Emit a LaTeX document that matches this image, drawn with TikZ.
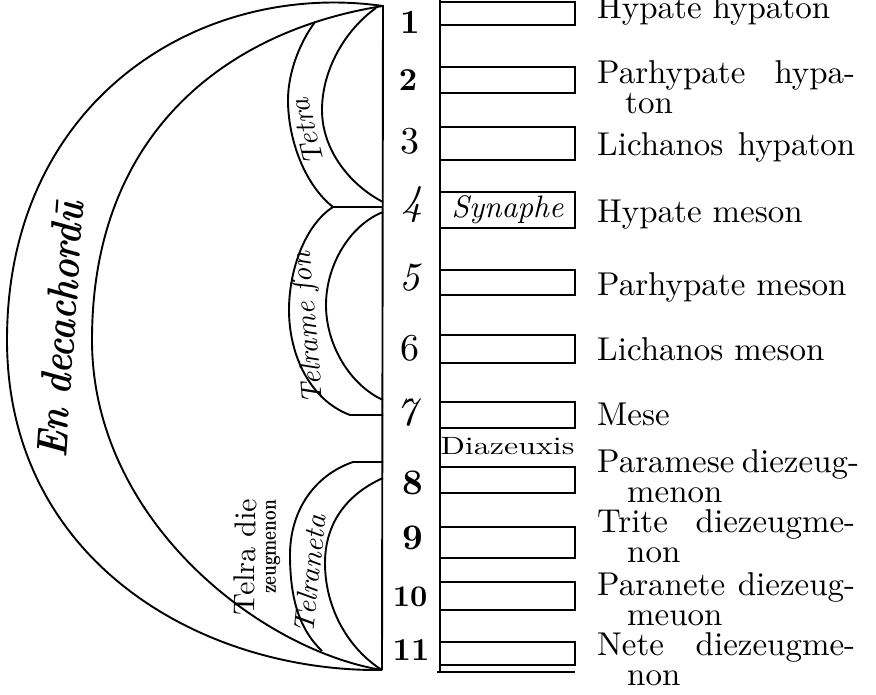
\documentclass[tikz,border=0pt]{standalone}
\usepackage{fontspec}
\setmainfont{lmroman10-regular.otf}[BoldFont=lmroman10-bold.otf,
  ItalicFont=lmroman10-italic.otf, BoldItalicFont=lmroman10-bolditalic.otf]
\usepackage{tikz}
\usetikzlibrary{positioning}

\begin{document}
\begin{tikzpicture}[x=1pt, y=-1pt,
    curveline/.style={line width=1.9pt},
    strbox/.style={rectangle, draw, line width=1.9pt, minimum width=135pt, inner sep=0pt},
    num/.style={font=\fontsize{38}{38}\selectfont},
    lbl/.style={anchor=base west, align=left, inner sep=0pt,
      font=\fontsize{33}{29.5}\selectfont},
    band/.style={inner sep=0pt, font=\itshape\fontsize{29}{29}\selectfont}]

    \useasboundingbox (0,0) rectangle (876,694);

    \coordinate (top) at (383,6);
    \coordinate (bot) at (382,670);

    % the big crescent
    \draw[curveline] (top) .. controls (200,-20) and (7,100) .. (7,340)
        .. controls (7,560) and (200,672) .. (bot);
    \draw[curveline] (top) .. controls (230,30) and (92,130) .. (92,340)
        .. controls (92,520) and (260,650) .. (bot);

    % the three tetrachords
    \draw[curveline] (315,22) .. controls (298,45) and (288,75) .. (288,100)
        .. controls (288,140) and (305,185) .. (333,207);
    \draw[curveline] (376,8) .. controls (345,30) and (322,70) .. (322,110)
        .. controls (322,150) and (350,185) .. (383,202);
    \draw[curveline] (383,207) -- (333,207);
    \draw[curveline] (333,207) .. controls (305,225) and (289,270) .. (289,310)
        .. controls (289,355) and (310,400) .. (350,415) -- (383,415);
    \draw[curveline] (383,212) .. controls (350,225) and (326,265) .. (326,305)
        .. controls (326,345) and (350,385) .. (383,400);
    \draw[curveline] (383,462) -- (353,462) .. controls (315,475) and (290,510) .. (290,555)
        .. controls (290,600) and (300,630) .. (322,651);
    \draw[curveline] (383,478) .. controls (345,495) and (325,525) .. (325,563)
        .. controls (325,610) and (350,650) .. (bot);

    \node[band, rotate=104] (tetra1) at (307,132) {Tetra};
    \node[band, rotate=95] (tetra2) at (309,328) {Telrame ſon};
    \node[band, rotate=84] (tetra3) at (310,574) {Telraneta};
    \node[inner sep=0pt, rotate=89, font=\fontsize{30}{30}\selectfont] (diez1) at (245,557) {Telra die};
    \node[inner sep=0pt, rotate=90, font=\bfseries\fontsize{22}{22}\selectfont] (diez2) at (273,547) {\scalebox{0.76}[1]{zeugmenon}};
    \node[inner sep=0pt, rotate=86, font=\bfseries\itshape\fontsize{35}{35}\selectfont] (endeca) at (60,330) {\scalebox{1}[1.25]{En decachordū}};

    % strings
    \draw[curveline] (383,5) -- (bot);
    \draw[curveline] (440,0) -- (440,672);
    \draw[curveline] (437,672) -- (575,672);

    \node[strbox, minimum height=23pt] (b1) at (507.5,13.5) {};
    \node[strbox, minimum height=26pt] (b2) at (507.5,80) {};
    \node[strbox, minimum height=33pt] (b3) at (507.5,143.5) {};
    \node[strbox, minimum height=36pt, font=\itshape\fontsize{31}{31}\selectfont] (b4) at (507.5,210) {Synaphe};
    \node[strbox, minimum height=25pt] (b5) at (507.5,282.5) {};
    \node[strbox, minimum height=28pt] (b6) at (507.5,349) {};
    \node[strbox, minimum height=26pt] (b7) at (507.5,415) {};
    \node[strbox, minimum height=26pt] (b8) at (507.5,480) {};
    \node[strbox, minimum height=31pt] (b9) at (507.5,542.5) {};
    \node[strbox, minimum height=28pt] (b10) at (507.5,596) {};
    \node[strbox, minimum height=23pt] (b11) at (507.5,653.5) {};
    \node[inner sep=0pt, font=\fontsize{25}{25}\selectfont] (diazeuxis) at (507.5,446) {\scalebox{1.28}[1]{Diazeuxis}};

    \node[num, font=\bfseries\fontsize{34}{34}\selectfont] (s1) at (410,22) {1};
    \node[num, font=\bfseries\fontsize{32}{32}\selectfont] (s2) at (408,80) {2};
    \node[num] (s3) at (410,141) {3};
    \node[num, font=\itshape\fontsize{42}{42}\selectfont] (s4) at (412,205) {4};
    \node[num, font=\itshape\fontsize{40}{40}\selectfont] (s5) at (410,278) {5};
    \node[num] (s6) at (410,348) {6};
    \node[num, font=\itshape\fontsize{40}{40}\selectfont] (s7) at (407,413) {7};
    \node[num, font=\bfseries\fontsize{36}{36}\selectfont] (s8) at (413,483) {8};
    \node[num, font=\bfseries\fontsize{36}{36}\selectfont] (s9) at (413,538) {9};
    \node[num, font=\bfseries\fontsize{30}{30}\selectfont] (s10) at (410,597) {10};
    \node[num, font=\bfseries\fontsize{32}{32}\selectfont] (s11) at (411,650) {11};

    \node[lbl] (n1) at (597,18) {Hypate hypaton};
    \node[lbl] (n2) at (597,113) {\makebox[258pt][s]{Parhypate hypa-}\\\hspace*{28pt}ton};
    \node[lbl] (n3) at (597,155) {\makebox[258pt][s]{Lichanos hypaton}};
    \node[lbl] (n4) at (597,222) {Hypate meson};
    \node[lbl] (n5) at (597,295) {Parhypate meson};
    \node[lbl] (n6) at (597,360) {Lichanos meson};
    \node[lbl] (n7) at (597,425) {Mese};
    \node[lbl] (n8) at (597,502) {\makebox[258pt][s]{Paramese diezeug-}\\\hspace*{30pt}menon};
    \node[lbl] (n9) at (597,562) {\makebox[258pt][s]{Trite diezeugme-}\\\hspace*{30pt}non};
    \node[lbl] (n10) at (597,625) {\makebox[258pt][s]{Paranete diezeug-}\\\hspace*{30pt}meuon};
    \node[lbl] (n11) at (597,685) {\makebox[258pt][s]{Nete diezeugme-}\\\hspace*{30pt}non};
\end{tikzpicture}
\end{document}
